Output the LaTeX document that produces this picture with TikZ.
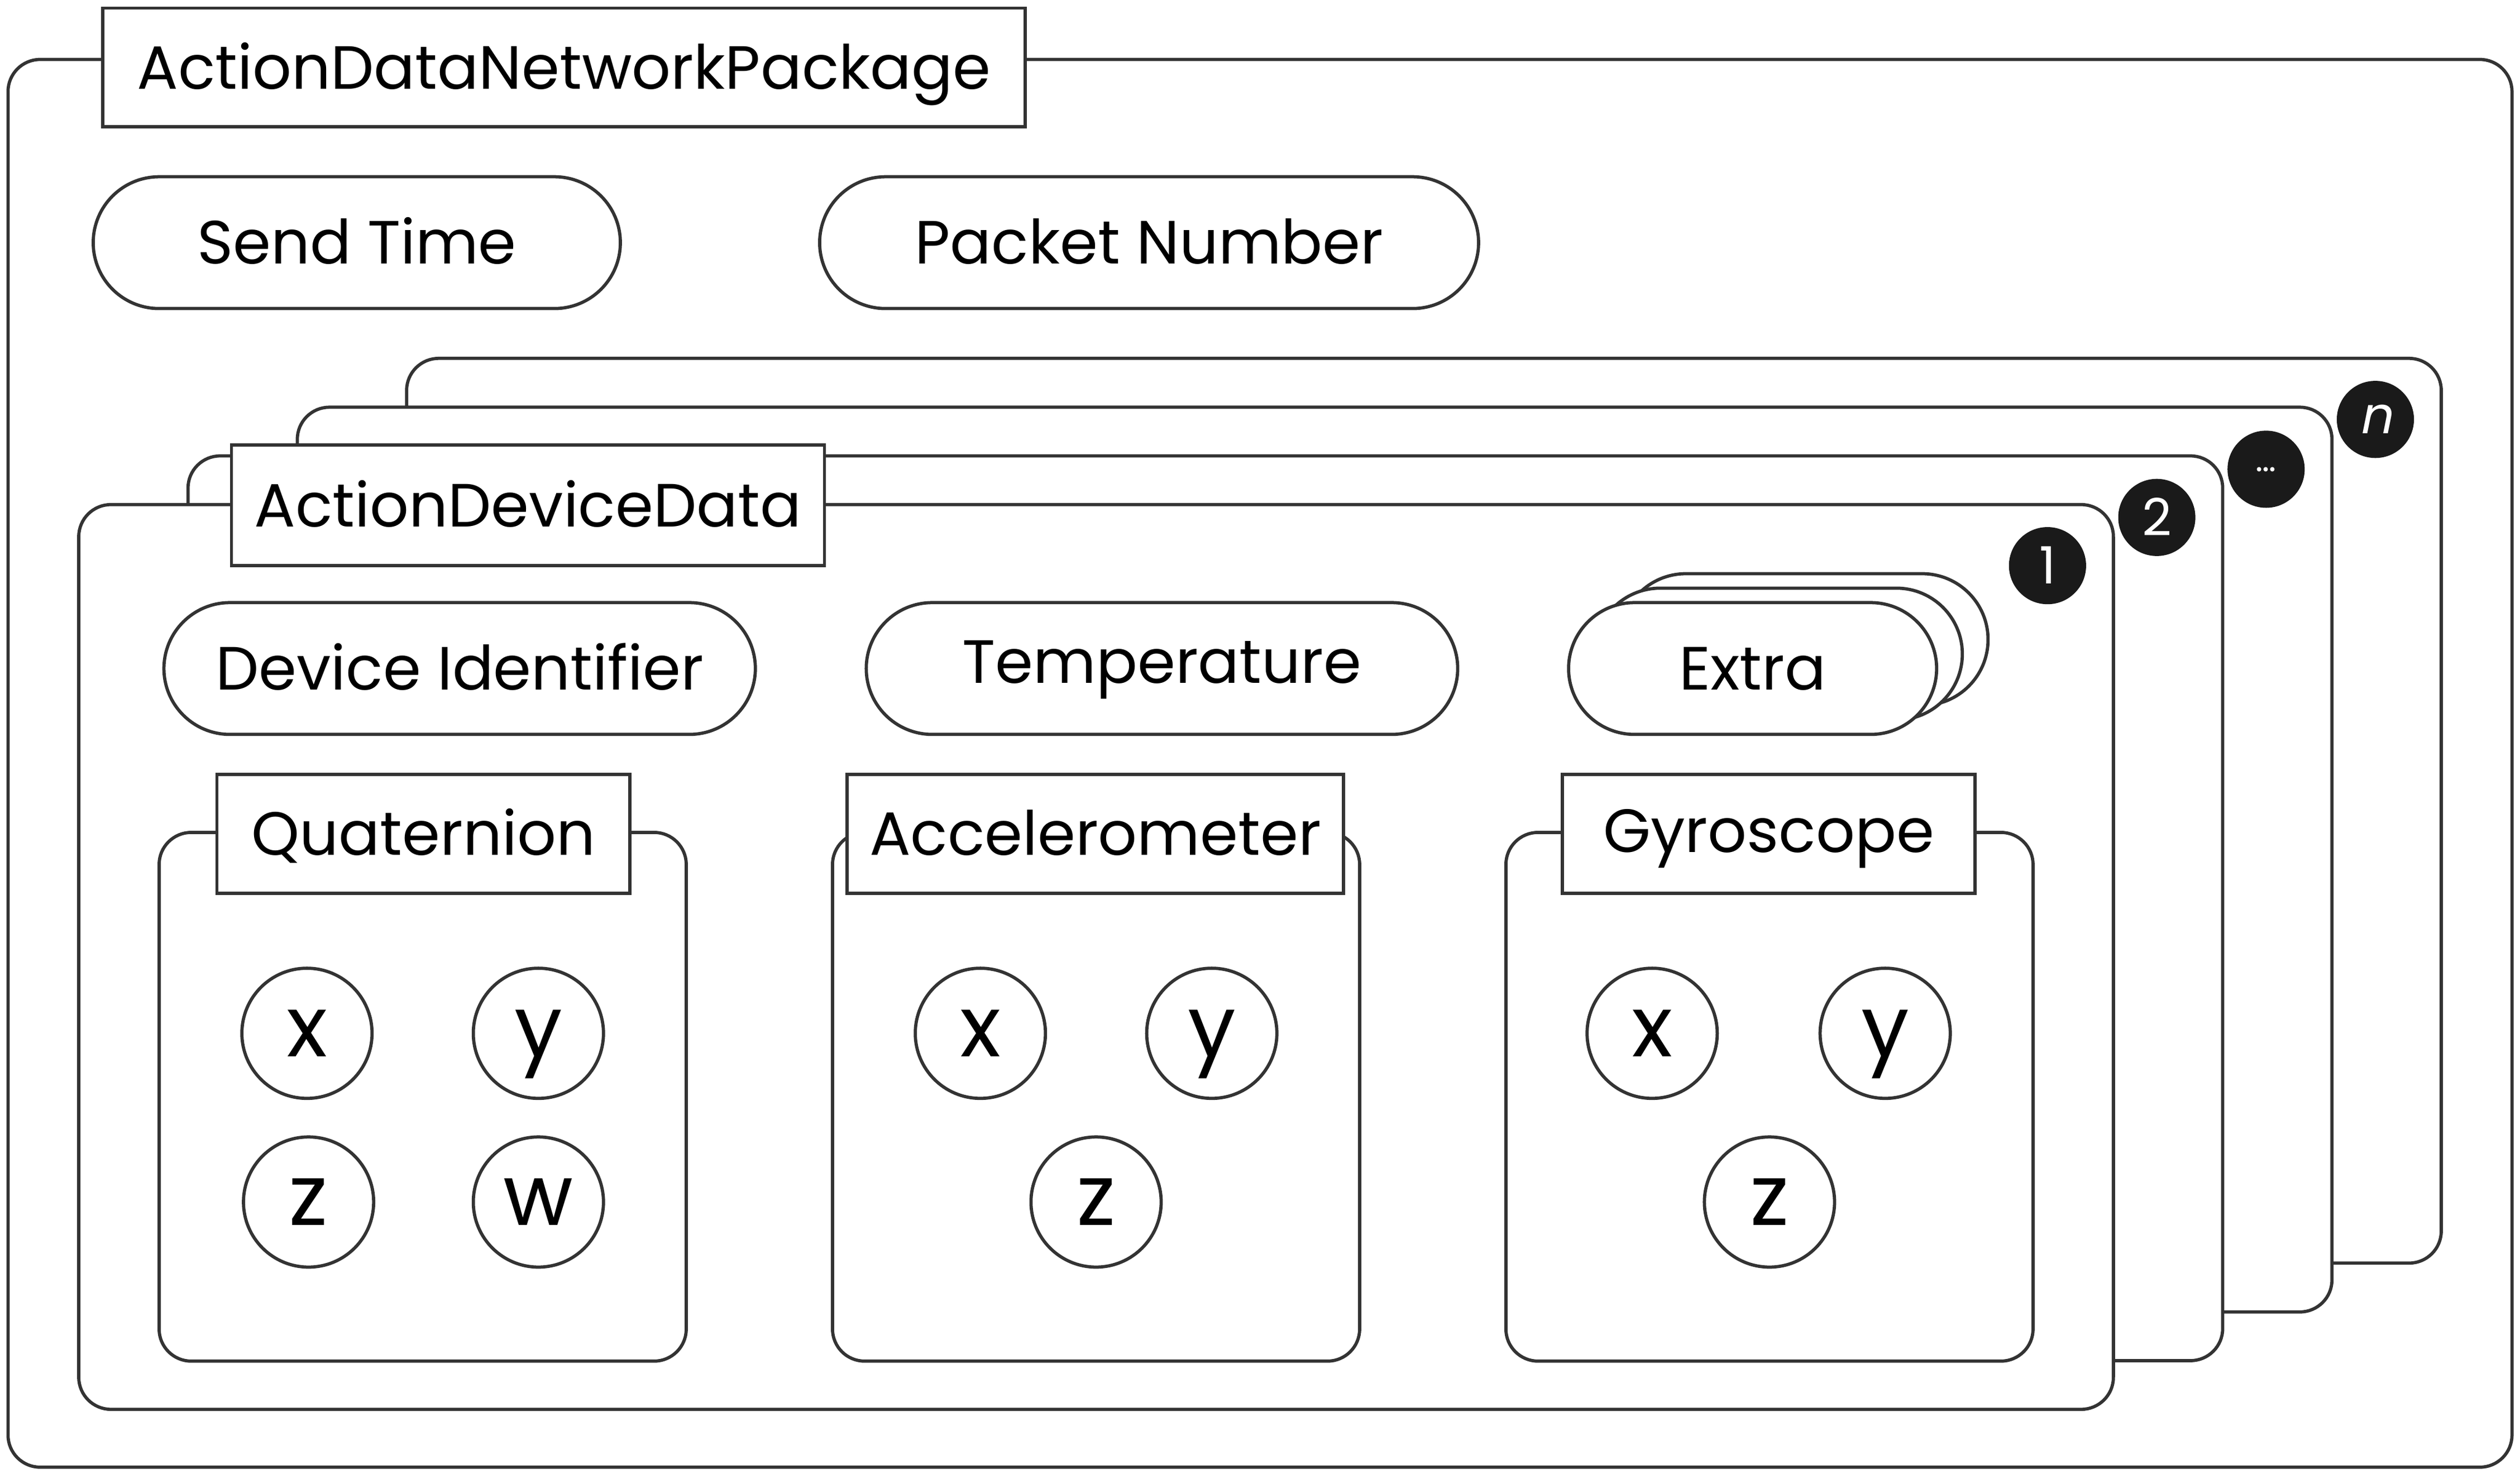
\documentclass[tikz,border=0pt]{standalone}
\usepackage{fontspec}
\setmainfont{Poppins}[AutoFakeSlant=0.2]
\definecolor{ln}{HTML}{333333}
\definecolor{bd}{HTML}{1A1A1A}
\begin{document}
\begin{tikzpicture}[x=1pt,y=-1pt,
  every node/.style={line width=2pt, draw=ln, fill=white, inner sep=0pt, outer sep=0pt},
  frame/.style={rounded corners=20pt},
  tbox/.style={font=\fontsize{38}{40}\selectfont, text height=26.5pt, text depth=0pt, minimum height=74pt},
  pill/.style={rounded corners=41pt, minimum height=82pt, font=\fontsize{38}{40}\selectfont, text height=26.5pt, text depth=0pt},
  coord/.style={circle, minimum size=81pt, font=\fontsize{53}{56}\selectfont, text height=29pt, text depth=0pt},
  badge/.style={circle, fill=bd, draw=none, minimum size=48pt, text=white, font=\fontsize{32}{34}\selectfont, text height=22.4pt, text depth=0pt},
]
\useasboundingbox[fill=white] (0,0) rectangle (1568,917);
% outer package frame
\node[frame, minimum width=1558pt, minimum height=876pt] (outer) at (784,475) {};
\node[tbox, minimum width=574pt] (pkgtitle) at (351,42) {ActionDataNetworkPackage};
\node[pill, minimum width=328pt] (sendtime) at (222,151) {Send Time};
\node[pill, minimum width=410pt] (packetno) at (715,151) {Packet Number};
% stacked device frames
\node[frame, minimum width=1266pt, minimum height=563pt] (dev4) at (886,504.5) {};
\node[frame, minimum width=1266pt, minimum height=563pt] (dev3) at (818,534.9) {};
\node[frame, minimum width=1266pt, minimum height=563pt] (dev2) at (750,565.2) {};
\node[frame, minimum width=1266pt, minimum height=563pt] (dev1) at (682,595.5) {};
\node[tbox, minimum width=369pt, minimum height=75pt] (devtitle) at (328.5,314.5) {ActionDeviceData};
% badges
\node[badge] (b1) at (1274,352) {1};
\node[badge] (b2) at (1342,322) {2};
\node[badge, font=\fontsize{22}{24}\selectfont, text height=3pt] (b3) at (1410,292) {…};
\node[badge, text height=17.5pt] (b4) at (1478,261) {\itshape n};
% device fields
\node[pill, minimum width=368pt] (devid) at (286,416) {Device Identifier};
\node[pill, minimum width=368pt, text depth=8pt] (temp) at (723,416) {Temperature};
\node[pill, minimum width=229pt] (extra3) at (1122.5,398) {};
\node[pill, minimum width=229pt] (extra2) at (1106.5,407) {};
\node[pill, minimum width=229pt] (extra) at (1090.5,416) {Extra};
% sensor frames
\node[frame, minimum width=328pt, minimum height=329pt] (quatf) at (263,682.5) {};
\node[frame, minimum width=328pt, minimum height=329pt] (accf) at (682,682.5) {};
\node[frame, minimum width=328pt, minimum height=329pt] (gyrof) at (1101,682.5) {};
\node[tbox, minimum width=257pt] (quatt) at (263.5,519) {Quaternion};
\node[tbox, minimum width=309pt] (acct) at (681.5,519) {Accelerometer};
\node[tbox, minimum width=257pt, text depth=4pt] (gyrot) at (1100.5,519) {Gyroscope};
% components
\node[coord] (qx) at (191,643) {x};
\node[coord] (qy) at (335,643) {y};
\node[coord] (qz) at (192,748) {z};
\node[coord] (qw) at (335,748) {w};
\node[coord] (ax) at (610,643) {x};
\node[coord] (ay) at (754,643) {y};
\node[coord] (az) at (682,748) {z};
\node[coord] (gx) at (1028,643) {x};
\node[coord] (gy) at (1173,643) {y};
\node[coord] (gz) at (1101,748) {z};
\end{tikzpicture}
\end{document}
